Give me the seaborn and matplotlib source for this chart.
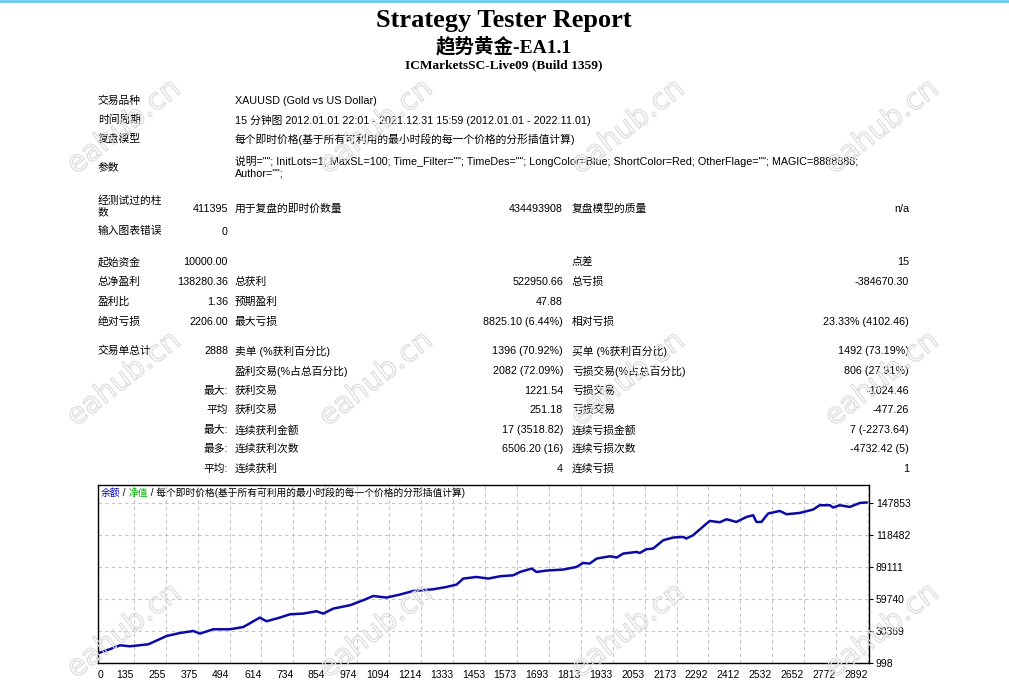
import matplotlib
matplotlib.use("Agg")
import matplotlib.pyplot as plt
import matplotlib.patheffects as pe
import seaborn as sns
import pandas as pd

# ---------------- data ----------------
trade_no = [0, 33, 83, 120, 189, 258, 308, 358, 383, 433, 496, 546, 608, 633, 683,
            721, 771, 821, 846, 884, 946, 996, 1034, 1084, 1134, 1184, 1259, 1309,
            1347, 1372, 1422, 1466, 1510, 1560, 1585, 1629, 1647, 1685, 1747, 1797,
            1822, 1847, 1873, 1923, 1948, 1973, 2023, 2035, 2060, 2085, 2123, 2160,
            2198, 2210, 2235, 2286, 2298, 2336, 2361, 2398, 2436, 2461, 2473, 2492,
            2517, 2561, 2586, 2636, 2686, 2711, 2749, 2761, 2786, 2824, 2862, 2888]
balance = [10000, 12654, 17243, 16325, 18161, 25779, 28532, 30368, 27981, 31928,
           31928, 34039, 42666, 39270, 42666, 45695, 46337, 48448, 46337, 50926,
           53955, 58544, 62491, 61022, 63776, 67080, 68640, 70751, 72954, 78460,
           79929, 78460, 80571, 81489, 84518, 87638, 84518, 85803, 86721, 89107,
           92778, 92227, 96816, 98927, 97734, 101405, 102874, 101956, 105352,
           105994, 113612, 116090, 116641, 115172, 118201, 128939, 131326, 130132,
           132886, 130408, 134998, 136557, 130408, 130408, 138117, 140504, 137475,
           138668, 141789, 145735, 145735, 143624, 145735, 144175, 147846, 148280.36]

x_ticks = [0, 135, 255, 375, 494, 614, 734, 854, 974, 1094, 1214, 1333, 1453, 1573,
           1693, 1813, 1933, 2053, 2173, 2292, 2412, 2532, 2652, 2772, 2892]
y_ticks = [998, 30369, 59740, 89111, 118482, 147853]

title = "Strategy Tester Report"
subtitle = "趋势黄金-EA1.1"
server = "ICMarketsSC-Live09 (Build 1359)"

info_labels = ["交易品种", "时间周期", "复盘模型", "参数"]
info_values = ["XAUUSD (Gold vs US Dollar)",
               "15 分钟图 2012.01.01 22:01 - 2021.12.31 15:59 (2012.01.01 - 2022.11.01)",
               "每个即时价格(基于所有可利用的最小时段的每一个价格的分形插值计算)",
               '说明=""; InitLots=1; MaxSL=100; Time_Filter=""; TimeDes=""; LongColor=Blue; '
               'ShortColor=Red; OtherFlage=""; MAGIC=8888888;\nAuthor="";']

# rows of the statistics table: (col1 label, col1 value, col2 label, col2 value, col3 label, col3 value)
stat_rows = [
    ("起始资金", "10000.00", "", "", "点差", "15"),
    ("总净盈利", "138280.36", "总获利", "522950.66", "总亏损", "-384670.30"),
    ("盈利比", "1.36", "预期盈利", "47.88", "", ""),
    ("绝对亏损", "2206.00", "最大亏损", "8825.10 (6.44%)", "相对亏损", "23.33% (4102.46)"),
    ("交易单总计", "2888", "卖单 (%获利百分比)", "1396 (70.92%)", "买单 (%获利百分比)", "1492 (73.19%)"),
    ("", "", "盈利交易(%占总百分比)", "2082 (72.09%)", "亏损交易(%占总百分比)", "806 (27.91%)"),
    ("", "最大:", "获利交易", "1221.54", "亏损交易", "-1024.46"),
    ("", "平均", "获利交易", "251.18", "亏损交易", "-477.26"),
    ("", "最大:", "连续获利金额", "17 (3518.82)", "连续亏损金额", "7 (-2273.64)"),
    ("", "最多:", "连续获利次数", "6506.20 (16)", "连续亏损次数", "-4732.42 (5)"),
    ("", "平均:", "连续获利", "4", "连续亏损", "1"),
]
stat_y = [262, 282, 302, 322, 351, 371, 391, 410, 430, 449, 469]

legend_parts = [("余额", "#0000cc"), (" / ", "#000000"), ("净值", "#00b000"),
                (" / 每个即时价格(基于所有可利用的最小时段的每一个价格的分形插值计算)", "#000000")]

# ---------------- figure ----------------
W, H = 1009, 686
sns.set_style("white")
body_font = ["Liberation Sans", "Noto Sans CJK SC"]
serif_font = ["Liberation Serif", "Noto Sans CJK SC"]
plt.rcParams["font.family"] = body_font
plt.rcParams["text.color"] = "black"
plt.rcParams["xtick.color"] = "black"
plt.rcParams["ytick.color"] = "black"

fig = plt.figure(figsize=(W / 100, H / 100), dpi=100)


def put(x, y, s, **kw):
    kw.setdefault("fontsize", 7.75)
    kw.setdefault("va", "center")
    kw.setdefault("color", "black")
    return fig.text(x / W, 1 - y / H, s, **kw)


# top border line
fig.add_artist(plt.Line2D([0, 1], [1 - 1 / H, 1 - 1 / H], color="#66ccee", lw=2))

put(504, 27, title, family="Liberation Serif", fontweight="bold", fontsize=19,
    ha="center", va="baseline")
put(504, 52, subtitle, family=serif_font, fontweight="bold", fontsize=14,
    ha="center", va="baseline")
put(504, 68, server, family="Liberation Serif", fontweight="bold", fontsize=9.6,
    ha="center", va="baseline")

# header info
info_y = [101, 120, 139, 167]
for lab, val, y in zip(info_labels, info_values, info_y):
    put(98, y, lab)
    put(235, y, val, linespacing=1.15)

put(98, 206, "经测试过的柱\n数", linespacing=1.2)
put(228, 209, "411395", ha="right")
put(235, 209, "用于复盘的即时价数量")
put(563, 209, "434493908", ha="right")
put(572, 209, "复盘模型的质量")
put(909, 209, "n/a", ha="right")
put(98, 231, "输入图表错误")
put(228, 232, "0", ha="right")

for row, y in zip(stat_rows, stat_y):
    l1, v1, l2, v2, l3, v3 = row
    put(98, y, l1)
    put(228, y, v1, ha="right")
    put(235, y, l2)
    put(563, y, v2, ha="right")
    put(572, y, l3)
    put(909, y, v3, ha="right")

# ---------------- equity chart ----------------
df = pd.DataFrame({"trade": trade_no, "balance": balance})
ax = fig.add_axes([98 / W, 1 - 663 / H, 771 / W, 178 / H])
ax.set_facecolor("none")
sns.lineplot(data=df, x="trade", y="balance", ax=ax, color="#0a0aa8", linewidth=1.8)
ax.set_xlim(0, 2896)
ax.set_ylim(998, 164300)
ax.set_xticks(x_ticks)
ax.set_xticklabels([str(t) for t in x_ticks], fontsize=7.5)
for i, lab in enumerate(ax.get_xticklabels()):
    lab.set_ha("left" if i == 0 else "right")
ax.set_yticks(y_ticks)
ax.set_yticklabels([str(t) for t in y_ticks], fontsize=7.5)
ax.yaxis.tick_right()
ax.tick_params(axis="both", length=3, width=0.8, color="black", pad=2, direction="out")
ax.grid(True, color="#c4c4c4", linestyle=(0, (3, 3)), linewidth=0.8)
ax.set_xlabel("")
ax.set_ylabel("")
for sp in ax.spines.values():
    sp.set_visible(True)
    sp.set_color("black")
    sp.set_linewidth(1)

# coloured legend text at top-left of chart
renderer = fig.canvas.get_renderer()
x_px = 101
for txt, col in legend_parts:
    t = put(x_px, 493, txt, color=col, fontsize=7)
    x_px = t.get_window_extent(renderer=renderer).x1

# watermarks
for wy in [127, 379, 631]:
    for wx in [124, 376, 628, 882]:
        put(wx, wy, "eahub.cn", family="DejaVu Sans", fontsize=21, rotation=38,
            ha="center", va="center", color=(1, 1, 1, 0), zorder=10,
            path_effects=[pe.Stroke(linewidth=0.8, foreground="#dadada")])

fig.savefig("out.png", dpi=100)
